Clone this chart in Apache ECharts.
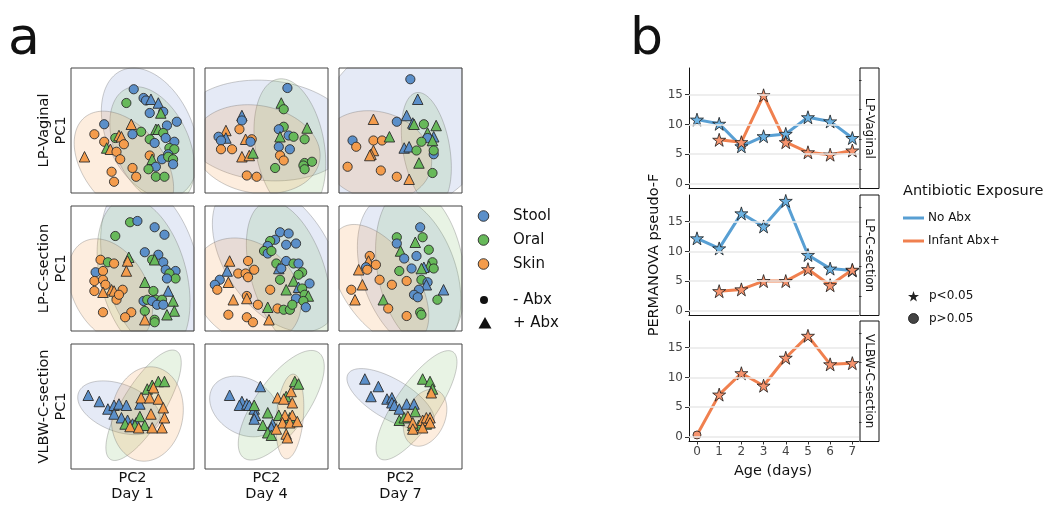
<!DOCTYPE html>
<html><head><meta charset="utf-8">
<script src="https://cdn.jsdelivr.net/npm/echarts@6/dist/echarts.min.js"></script>
<style>html,body{margin:0;padding:0;background:#fff}#c{width:1050px;height:510px}</style>
</head><body><div id="c"></div>
<script>
// ---------- DATA ----------
const groups = ['Stool', 'Oral', 'Skin'];
const cohorts = ['LP-Vaginal', 'LP-C-section', 'VLBW-C-section'];
const dayLabels = ['Day 1', 'Day 4', 'Day 7'];
// points: [PC2, PC1, group(0 Stool,1 Oral,2 Skin), abx(0 none,1 +Abx)]
const lpvD1 = [[51,83,0,0],[59,76,0,0],[61,74,0,0],[65,75,0,1],[71,72,0,1],[45,72,1,0],[64,64,0,0],[75,65,0,0],[73,64,1,1],[86,57,0,0],[27,55,0,0],[49,55,2,1],[78,54,0,0],[69,51,1,1],[71,51,1,1],[57,49,1,0],[19,47,2,0],[50,47,0,0],[75,48,1,0],[36,44,1,0],[39,46,2,1],[41,45,2,1],[64,43,1,0],[27,41,2,0],[68,40,0,0],[84,41,0,0],[77,44,0,0],[43,39,2,0],[29,36,1,1],[32,35,2,1],[37,33,2,0],[80,36,1,0],[84,35,1,0],[79,31,0,0],[11,29,2,1],[40,27,2,0],[64,30,2,0],[66,27,1,1],[74,27,0,0],[79,29,1,0],[83,27,1,0],[69,21,0,0],[83,23,0,0],[63,19,1,0],[50,20,2,0],[33,17,2,0],[69,13,1,0],[76,13,1,0],[53,13,2,0],[35,9,2,0]];
const lpvD4 = [[67,84,0,0],[62,72,1,1],[64,67,1,0],[30,62,0,1],[30,58,0,0],[28,51,2,0],[17,50,2,1],[83,52,1,1],[11,45,0,0],[17,44,0,1],[13,42,0,0],[13,35,2,0],[22,35,2,0],[64,53,1,0],[60,51,0,0],[61,45,1,1],[68,46,0,0],[72,45,1,0],[81,43,1,0],[33,43,2,1],[38,43,2,0],[37,41,0,0],[60,37,0,0],[69,35,0,0],[61,30,2,0],[64,26,2,0],[30,29,2,1],[36,30,2,1],[39,32,1,1],[81,24,1,0],[87,25,1,0],[80,22,1,0],[81,19,1,0],[57,20,1,0],[34,14,2,0],[42,13,2,0]];
const lpvD7 = [[58,91,0,0],[64,75,0,1],[28,59,2,1],[47,57,0,0],[55,62,0,1],[60,56,0,1],[61,55,1,1],[69,55,1,0],[79,54,1,1],[72,48,1,1],[77,45,0,1],[72,44,0,0],[76,42,1,1],[67,41,1,0],[11,42,0,0],[14,37,2,0],[28,42,2,0],[35,42,2,0],[41,45,1,1],[28,34,2,1],[26,31,2,1],[25,30,2,1],[53,36,0,1],[57,37,0,1],[63,34,1,0],[77,31,0,0],[77,34,1,0],[65,24,1,1],[7,21,2,0],[34,18,2,0],[47,13,2,0],[57,11,2,1],[76,16,1,0]];
const lpcD1 = [[48,87,1,0],[54,88,0,0],[68,83,0,0],[76,77,0,0],[36,76,1,0],[60,63,0,0],[71,61,0,0],[66,57,1,0],[68,57,1,1],[75,55,0,0],[47,59,1,1],[46,56,2,1],[24,57,2,0],[30,55,1,0],[35,54,2,0],[45,48,2,1],[77,49,0,0],[85,48,0,0],[80,46,1,0],[20,47,0,0],[26,48,2,0],[60,39,1,1],[85,42,1,0],[78,42,0,0],[19,40,2,0],[26,41,2,0],[28,37,2,0],[42,33,2,0],[33,33,2,1],[35,32,2,1],[19,32,2,0],[26,31,2,1],[67,32,1,0],[79,32,0,1],[37,25,2,0],[39,29,2,0],[59,24,0,0],[62,25,1,0],[69,25,1,0],[74,25,1,0],[66,24,0,0],[83,24,1,1],[70,21,0,0],[75,21,0,0],[60,16,1,0],[26,15,2,0],[49,15,2,0],[44,11,2,0],[84,16,1,1],[78,13,1,1],[68,9,1,0],[68,7,1,0],[60,9,2,1]];
const lpcD4 = [[61,79,0,0],[68,78,0,0],[57,73,0,0],[53,72,1,0],[51,68,0,0],[66,69,0,0],[74,70,0,0],[48,64,1,0],[51,62,0,0],[54,64,1,0],[20,56,2,1],[35,56,2,0],[58,54,1,0],[66,56,0,0],[72,54,1,0],[76,54,0,0],[27,46,2,0],[33,46,2,0],[18,48,0,1],[40,49,2,0],[60,50,0,1],[62,50,0,0],[79,47,1,0],[76,45,1,0],[19,39,2,1],[12,41,0,0],[8,37,0,0],[10,33,2,0],[35,43,2,0],[61,41,1,0],[72,40,1,1],[85,38,0,0],[76,35,0,1],[79,34,1,0],[66,33,1,1],[53,33,2,0],[34,28,2,0],[34,26,2,1],[23,25,2,1],[43,21,2,0],[81,29,1,0],[74,26,0,0],[84,28,1,1],[80,24,1,0],[51,19,1,1],[59,18,2,0],[64,17,1,0],[69,17,1,0],[71,21,1,0],[82,19,0,0],[19,13,2,0],[34,11,2,0],[39,7,2,0],[52,9,2,1]];
const lpcD7 = [[66,83,0,0],[47,75,1,0],[47,70,0,0],[62,71,1,1],[68,75,1,0],[50,64,1,1],[73,65,1,0],[53,58,0,0],[63,60,0,0],[25,60,2,0],[24,56,2,1],[30,53,2,0],[22,51,0,0],[23,49,2,0],[16,49,2,1],[76,55,1,0],[73,52,1,1],[69,51,0,1],[77,50,1,0],[49,48,1,0],[59,50,0,0],[67,50,1,1],[33,41,2,0],[43,37,2,0],[55,40,2,0],[67,41,1,0],[72,39,0,0],[71,37,0,1],[19,37,2,1],[10,33,2,0],[13,25,2,1],[65,33,0,0],[61,29,0,0],[64,27,0,0],[85,33,0,1],[80,25,1,0],[36,25,1,1],[40,18,2,0],[55,12,2,0],[66,15,1,0],[67,13,1,0]];
const vlbwD1 = [[14,59,0,1],[23,54,0,1],[30,48,0,1],[35,51,0,1],[39,52,0,1],[45,51,0,1],[35,44,0,1],[56,52,0,1],[41,41,0,1],[46,39,0,1],[50,36,0,1],[53,37,0,1],[62,64,1,1],[66,67,1,1],[71,70,1,1],[76,70,1,1],[56,42,1,1],[60,35,1,1],[44,36,1,1],[52,35,1,1],[67,65,2,1],[57,57,2,1],[64,57,2,1],[71,56,2,1],[75,49,2,1],[76,41,2,1],[65,44,2,1],[74,33,2,1],[66,33,2,1],[48,34,2,1],[55,33,2,1]];
const vlbwD4 = [[20,59,0,1],[45,66,0,1],[30,54,0,1],[28,51,0,1],[34,52,0,1],[36,51,0,1],[40,48,0,1],[41,43,0,1],[40,40,0,1],[55,36,0,1],[54,33,0,1],[40,51,1,1],[51,45,1,1],[66,58,1,1],[73,70,1,1],[76,68,1,1],[60,43,1,1],[47,35,1,1],[51,29,1,1],[54,27,1,1],[69,41,1,1],[59,57,2,1],[64,56,2,1],[70,62,2,1],[71,53,2,1],[65,43,2,1],[71,43,2,1],[63,37,2,1],[69,37,2,1],[75,38,2,1],[66,28,2,1],[67,25,2,1],[58,32,2,1]];
const vlbwD7 = [[21,72,0,1],[32,66,0,1],[26,58,0,1],[39,56,0,1],[43,57,0,1],[43,53,0,1],[45,51,0,1],[49,48,0,1],[55,52,0,1],[61,52,0,1],[68,72,1,1],[74,70,1,1],[76,64,1,1],[62,46,1,1],[49,39,1,1],[53,41,1,1],[65,35,1,1],[71,36,1,1],[60,35,1,1],[75,61,2,1],[56,42,2,1],[60,37,2,1],[60,32,2,1],[68,39,2,1],[71,41,2,1],[74,41,2,1],[74,37,2,1],[68,33,2,1]];
// ellipses: [centerPC2, centerPC1, semiMajor, semiMinor, angleDeg, group]
const lpvD1Ell = [[64,48,55,35,-65,0],[66,38,50,30,-65,1],[43,22,50,32,-50,2]];
const lpvD4Ell = [[50,50,70,40,-5,0],[69,37,55,28,100,1],[42,35,52,35,-10,2]];
const lpvD7Ell = [[55,55,80,66,40,0],[71,35,46,19,100,1],[30,30,46,35,-15,2]];
const lpcD1Ell = [[65,51,70,38,-75,0],[59,43,65,35,-75,1],[32,32,45,30,-60,2]];
const lpcD4Ell = [[58,60,68,42,-55,0],[68,44,62,30,-72,1],[34,32,48,38,-40,2]];
const lpcD7Ell = [[57,46,65,38,-70,0],[66,51,65,35,-80,1],[33,37,55,30,-55,2]];
const vlbwD1Ell = [[39,49,35,19,-20,0],[59,51,51,17,58,1],[62,44,38,29,80,2]];
const vlbwD4Ell = [[32,50,30,22,-30,0],[62,51,52,21,54,1],[69,42,34,11,85,2]];
const vlbwD7Ell = [[42,56,40,16,-30,0],[63,51,52,17,55,1],[70,41,24,16,65,2]];

// PERMANOVA pseudo-F by age (days)
const ages = [0, 1, 2, 3, 4, 5, 6, 7];
const lpvNoAbx = [10.8, 10.1, 6.3, 8.0, 8.4, 11.2, 10.5, 7.7];
const lpvAbx = [null, 7.4, 7.0, 14.9, 7.0, 5.3, 4.9, 5.6];
const lpcNoAbx = [12.2, 10.5, 16.4, 14.2, 18.5, 9.4, 7.1, 6.8];
const lpcAbx = [null, 3.3, 3.6, 5.0, 5.0, 7.0, 4.3, 6.9];
const vlbwAbx = [0.3, 7.1, 10.7, 8.6, 13.3, 17.0, 12.2, 12.4];
// significance (1: p<0.05 star, 0: p>0.05 circle)
const lpvNoAbxSig = [1, 1, 1, 1, 1, 1, 1, 1];
const lpvAbxSig = [0, 1, 1, 1, 1, 1, 1, 1];
const lpcNoAbxSig = [1, 1, 1, 1, 1, 1, 1, 1];
const lpcAbxSig = [0, 1, 1, 1, 1, 1, 1, 1];
const vlbwAbxSig = [0, 1, 1, 1, 1, 1, 1, 1];
const yTicks = [0, 5, 10, 15];
const yMinorTicks = [2.5, 7.5, 12.5, 17.5];

// ---------- STYLE ----------
const FONT = 'DejaVu Sans';
const groupColors = ['#5b8fc9', '#67b95a', '#f49c4c'];
const ellFill = ['rgba(95,125,200,0.16)', 'rgba(110,180,90,0.16)', 'rgba(245,150,60,0.17)'];
const noAbxColor = '#589fd3', abxColor = '#f0804f';
const noAbxStar = '#6cb2e2', abxStar = '#f6946e';
const starPath = 'path://M50,2L61.2,36.6L97.6,36.6L68.2,58L79.4,92.6L50,71.2L20.6,92.6L31.8,58L2.4,36.6L38.8,36.6Z';

const panelPoints = [lpvD1, lpvD4, lpvD7, lpcD1, lpcD4, lpcD7, vlbwD1, vlbwD4, vlbwD7];
const panelEll = [lpvD1Ell, lpvD4Ell, lpvD7Ell, lpcD1Ell, lpcD4Ell, lpcD7Ell, vlbwD1Ell, vlbwD4Ell, vlbwD7Ell];

const scLeft = [71, 205, 339], scTop = [68, 206, 344], SW = 123, SH = 125;
const lnTop = [68, 195, 321], LH = 120.5, lnLeft = 689, LW = 170;

const grids = [], xAxes = [], yAxes = [], series = [];

// clip a polygon to a rectangle (Sutherland-Hodgman)
function clipEdge(pts, inside, cross) {
  const out = [];
  for (let i = 0; i < pts.length; i++) {
    const cur = pts[i], prev = pts[(i + pts.length - 1) % pts.length];
    if (inside(cur)) { if (!inside(prev)) out.push(cross(prev, cur)); out.push(cur); }
    else if (inside(prev)) out.push(cross(prev, cur));
  }
  return out;
}
function clipRect(pts, x0, y0, x1, y1) {
  const vx = X => (p, q) => [X, p[1] + (q[1] - p[1]) * (X - p[0]) / (q[0] - p[0])];
  const hy = Y => (p, q) => [p[0] + (q[0] - p[0]) * (Y - p[1]) / (q[1] - p[1]), Y];
  pts = clipEdge(pts, p => p[0] >= x0, vx(x0));
  if (pts.length) pts = clipEdge(pts, p => p[0] <= x1, vx(x1));
  if (pts.length) pts = clipEdge(pts, p => p[1] >= y0, hy(y0));
  if (pts.length) pts = clipEdge(pts, p => p[1] <= y1, hy(y1));
  return pts;
}
function ellipseRender(params, api) {
  const cx = api.value(0), cy = api.value(1), a = api.value(2), b = api.value(3);
  const ang = api.value(4) * Math.PI / 180, g = api.value(5);
  let pts = [];
  for (let i = 0; i < 120; i++) {
    const t = i / 120 * 2 * Math.PI;
    const ex = a * Math.cos(t), ey = b * Math.sin(t);
    pts.push(api.coord([cx + ex * Math.cos(ang) - ey * Math.sin(ang), cy + ex * Math.sin(ang) + ey * Math.cos(ang)]));
  }
  const cs = params.coordSys;
  pts = clipRect(pts, cs.x, cs.y, cs.x + cs.width, cs.y + cs.height);
  return { type: 'polygon', shape: { points: pts },
    style: { fill: ellFill[g], stroke: 'rgba(110,110,110,0.35)', lineWidth: 1 } };
}

for (let r = 0; r < 3; r++) {
  for (let c = 0; c < 3; c++) {
    const k = r * 3 + c;
    grids.push({ left: scLeft[c], top: scTop[r], width: SW, height: SH, show: true,
      borderColor: '#444', borderWidth: 1, backgroundColor: 'transparent', z: 5 });
    xAxes.push({ type: 'value', gridIndex: k, min: 0, max: 100, show: false });
    yAxes.push({ type: 'value', gridIndex: k, min: 0, max: 100, show: false });
    series.push({ type: 'custom', xAxisIndex: k, yAxisIndex: k, renderItem: ellipseRender,
      dimensions: ['x', 'y', 'a', 'b', 'ang', 'g'],
      data: panelEll[k], silent: true, z: 1, encode: { x: 0, y: 1 } });
    series.push({ type: 'scatter', xAxisIndex: k, yAxisIndex: k, silent: true, z: 3,
      data: panelPoints[k].map(p => ({ value: [p[0], p[1]], symbol: p[3] ? 'triangle' : 'circle',
        symbolSize: p[3] ? 10.5 : 9.2, itemStyle: { color: groupColors[p[2]] } })),
      itemStyle: { borderColor: '#2b2b2b', borderWidth: 0.9, opacity: 1 } });
  }
}

const lineSets = [
  [[lpvNoAbx, lpvNoAbxSig, noAbxColor, noAbxStar], [lpvAbx, lpvAbxSig, abxColor, abxStar]],
  [[lpcNoAbx, lpcNoAbxSig, noAbxColor, noAbxStar], [lpcAbx, lpcAbxSig, abxColor, abxStar]],
  [[vlbwAbx, vlbwAbxSig, abxColor, abxStar]]
];
for (let r = 0; r < 3; r++) {
  const gi = grids.length;
  grids.push({ left: lnLeft, top: lnTop[r], width: LW, height: LH });
  const bottom = r === 2;
  const xi = xAxes.length;
  xAxes.push({ type: 'value', gridIndex: gi, min: -0.36, max: 7.3,
    axisLine: { onZero: false, lineStyle: { color: '#111', width: 1 } },
    axisTick: { show: bottom, customValues: ages, length: 3, lineStyle: { color: '#333' } },
    axisLabel: { show: bottom, customValues: ages, color: '#444', fontSize: 12, fontFamily: FONT, margin: 4 },
    splitLine: { show: false } });
  const yi = yAxes.length;
  yAxes.push({ type: 'value', gridIndex: gi, min: -0.8, max: 19.5,
    axisLine: { show: true, onZero: false, lineStyle: { color: '#111', width: 1 } },
    axisTick: { show: true, customValues: yTicks, length: 4, lineStyle: { color: '#333' } },
    axisLabel: { customValues: yTicks, color: '#444', fontSize: 12, fontFamily: FONT, margin: 6 },
    splitLine: { show: false } });
  yAxes.push({ type: 'value', gridIndex: gi, min: -0.8, max: 19.5,
    axisLine: { show: false, onZero: false },
    axisTick: { show: true, customValues: yMinorTicks, length: 2.5, lineStyle: { color: '#333' } },
    axisLabel: { show: false }, splitLine: { show: false } });
  // light horizontal gridlines at the major ticks
  series.push({ type: 'line', xAxisIndex: xi, yAxisIndex: yi, data: [], z: 1, silent: true,
    markLine: { silent: true, symbol: 'none', label: { show: false }, animation: false,
      lineStyle: { color: '#e9e9e9', width: 1.5, type: 'solid' },
      data: yTicks.map(v => ({ yAxis: v })) } });
  lineSets[r].forEach(([vals, sig, col, fill]) => {
    series.push({ type: 'line', xAxisIndex: xi, yAxisIndex: yi, z: 4, silent: true,
      lineStyle: { color: col, width: 3 },
      itemStyle: { color: fill, borderColor: '#1a1a1a', borderWidth: 0.8 },
      data: ages.map((d, i) => vals[i] == null ? null : {
        value: [d, vals[i]], symbol: sig[i] ? starPath : 'circle', symbolSize: sig[i] ? 13 : 8 })
        .filter(Boolean) });
  });
}

// ---------- TEXT / LEGENDS ----------
const txt = (x, y, text, size, opts = {}) => Object.assign({ type: 'text', x, y, silent: true,
  style: Object.assign({ text, font: `${size}px "${FONT}"`, fill: '#111', align: 'left', verticalAlign: 'middle' }, opts.style || {}) },
  opts.el || {});
const graphic = [];
graphic.push(txt(8, 40, 'a', 52));
graphic.push(txt(630, 40, 'b', 52));
cohorts.forEach((name, r) => graphic.push(txt(53, scTop[r] + SH / 2, name + '\nPC1', 14.5,
  { style: { align: 'center', lineHeight: 17 }, el: { rotation: Math.PI / 2 } })));
dayLabels.forEach((d, c) => graphic.push(txt(scLeft[c] + SW / 2, 486, 'PC2\n' + d, 14.5,
  { style: { align: 'center', lineHeight: 16.5 } })));
// scatter legend
const legY = [216, 240, 264];
groups.forEach((g, i) => {
  graphic.push({ type: 'circle', silent: true, shape: { cx: 483.5, cy: legY[i], r: 5.3 },
    style: { fill: groupColors[i], stroke: '#2b2b2b', lineWidth: 0.9 } });
  graphic.push(txt(513, legY[i], g, 15));
});
graphic.push({ type: 'circle', silent: true, shape: { cx: 484, cy: 300, r: 4 }, style: { fill: '#111' } });
graphic.push(txt(513, 300, '- Abx', 15));
graphic.push({ type: 'polygon', silent: true, shape: { points: [[485, 317], [478.5, 328.5], [491.5, 328.5]] }, style: { fill: '#111' } });
graphic.push(txt(513, 323, '+ Abx', 15));
// panel b labels
graphic.push(txt(654, 255, 'PERMANOVA pseudo-F', 14.5, { style: { align: 'center' }, el: { rotation: Math.PI / 2 } }));
graphic.push(txt(773, 471, 'Age (days)', 14.5, { style: { align: 'center' } }));
cohorts.forEach((name, r) => {
  graphic.push({ type: 'rect', silent: true, shape: { x: 860, y: lnTop[r], width: 19, height: LH },
    style: { fill: '#fff', stroke: '#111', lineWidth: 1 } });
  graphic.push(txt(869.5, lnTop[r] + LH / 2, name, 12, { style: { align: 'center' }, el: { rotation: -Math.PI / 2 } }));
});
graphic.push(txt(903, 191.5, 'Antibiotic Exposure', 14.5));
graphic.push({ type: 'line', silent: true, shape: { x1: 903, y1: 218, x2: 924, y2: 218 }, style: { stroke: noAbxColor, lineWidth: 3 } });
graphic.push(txt(928, 218, 'No Abx', 12));
graphic.push({ type: 'line', silent: true, shape: { x1: 903, y1: 241, x2: 924, y2: 241 }, style: { stroke: abxColor, lineWidth: 3 } });
graphic.push(txt(928, 241, 'Infant Abx+', 12));
const starPts = [];
for (let i = 0; i < 10; i++) {
  const rr = i % 2 ? 2.3 : 5.8, th = -Math.PI / 2 + i * Math.PI / 5;
  starPts.push([913.5 + rr * Math.cos(th), 296.8 + rr * Math.sin(th)]);
}
graphic.push({ type: 'polygon', silent: true, shape: { points: starPts }, style: { fill: '#222' } });
graphic.push(txt(929, 296, 'p<0.05', 12));
graphic.push({ type: 'circle', silent: true, shape: { cx: 913.5, cy: 318.5, r: 5 }, style: { fill: '#444', stroke: '#111', lineWidth: 0.8 } });
graphic.push(txt(929, 318.5, 'p>0.05', 12));

const chart = echarts.init(document.getElementById('c'), null, { renderer: 'canvas' });
chart.setOption({
  animation: false,
  backgroundColor: '#fff',
  textStyle: { fontFamily: FONT },
  grid: grids, xAxis: xAxes, yAxis: yAxes, series, graphic
});
</script></body></html>
